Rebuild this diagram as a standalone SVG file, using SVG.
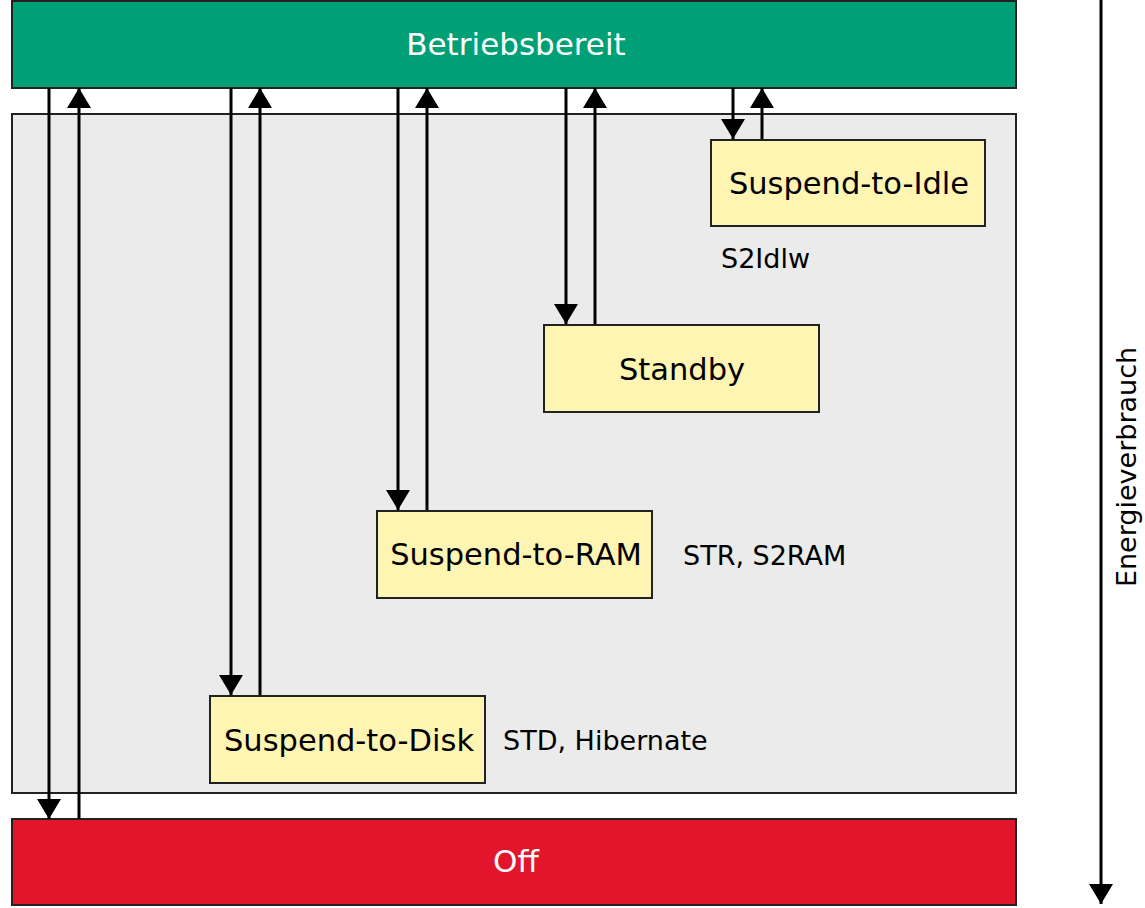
<svg xmlns="http://www.w3.org/2000/svg" width="1145" height="908" viewBox="0 0 1145 908">
<style>
.box{stroke:#222;stroke-width:2}
.state{fill:#fff5b3;stroke:#222;stroke-width:2}
.t{font-family:"DejaVu Sans",sans-serif;font-size:30.5px;fill:#000;text-anchor:middle}
.w{font-family:"DejaVu Sans",sans-serif;font-size:31px;fill:#fff;text-anchor:middle}
.s{font-family:"DejaVu Sans",sans-serif;font-size:27px;fill:#000}
.c{stroke:#000;stroke-width:3;fill:none}
</style>
<defs>
<marker id="ah" viewBox="0 0 20 24" refX="20" refY="12" markerWidth="20" markerHeight="24" markerUnits="userSpaceOnUse" orient="auto">
<path d="M0,0 L20,12 L0,24 Z" fill="#000"/>
</marker>
</defs>
<g id="panel"><rect x="12" y="114" width="1004" height="679" fill="#ebebeb" class="box"/></g>
<g id="betriebsbereit"><rect x="12" y="1" width="1004" height="87" fill="#00a077" class="box"/><text class="w" x="516" y="55">Betriebsbereit</text></g>
<g id="off"><rect x="12" y="819" width="1004" height="86" fill="#e3152b" class="box"/><text class="w" x="516" y="872">Off</text></g>
<g id="s2idle"><rect x="711" y="140" width="274" height="86" class="state"/><text class="t" x="849" y="194">Suspend-to-Idle</text><text class="s" x="721" y="268">S2Idlw</text></g>
<g id="standby"><rect x="544" y="325" width="275" height="87" class="state"/><text class="t" x="682" y="380">Standby</text></g>
<g id="s2ram"><rect x="377" y="511" width="275" height="87" class="state"/><text class="t" x="516" y="565">Suspend-to-RAM</text><text class="s" x="683" y="565">STR, S2RAM</text></g>
<g id="s2disk"><rect x="210" y="696" width="275" height="87" class="state"/><text class="t" x="349" y="751">Suspend-to-Disk</text><text class="s" x="503" y="750">STD, Hibernate</text></g>
<g id="connectors">
<line class="c" x1="49" y1="88" x2="49" y2="819" marker-end="url(#ah)"/>
<line class="c" x1="79" y1="819" x2="79" y2="88" marker-end="url(#ah)"/>
<line class="c" x1="231" y1="88" x2="231" y2="695" marker-end="url(#ah)"/>
<line class="c" x1="260" y1="695" x2="260" y2="88" marker-end="url(#ah)"/>
<line class="c" x1="398" y1="88" x2="398" y2="510" marker-end="url(#ah)"/>
<line class="c" x1="427" y1="510" x2="427" y2="88" marker-end="url(#ah)"/>
<line class="c" x1="566" y1="88" x2="566" y2="324" marker-end="url(#ah)"/>
<line class="c" x1="595" y1="324" x2="595" y2="88" marker-end="url(#ah)"/>
<line class="c" x1="733" y1="88" x2="733" y2="139" marker-end="url(#ah)"/>
<line class="c" x1="762" y1="139" x2="762" y2="88" marker-end="url(#ah)"/>
</g>
<g id="energie">
<line class="c" x1="1101" y1="0" x2="1101" y2="904" marker-end="url(#ah)"/>
<text class="s" transform="translate(1136,467) rotate(-90)" text-anchor="middle" font-size="26">Energieverbrauch</text>
</g>
</svg>
